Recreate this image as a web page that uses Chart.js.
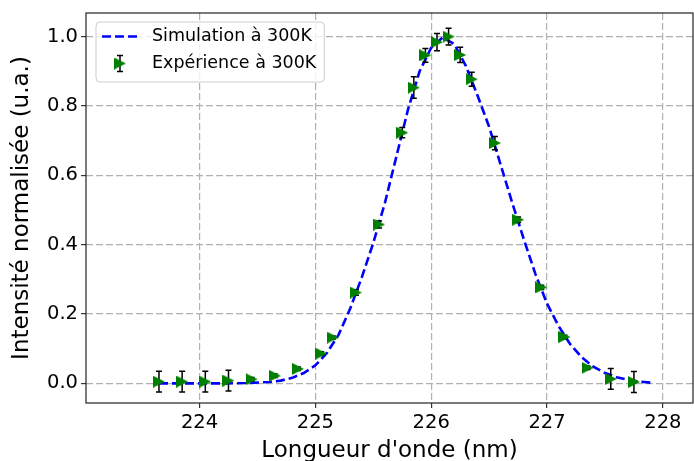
<!DOCTYPE html>
<html>
<head>
<meta charset="utf-8">
<script src="https://cdn.jsdelivr.net/npm/chart.js@4.4.1/dist/chart.umd.min.js"></script>
<style>
    html, body { margin: 0; padding: 0; background: #fff; }
</style>
</head>
<body>
<canvas id="spectrumChart" width="694" height="461"></canvas>
<script>
// measured points (with error bars)
const expX = [223.65, 223.85, 224.05, 224.25, 224.45, 224.65, 224.85, 225.05, 225.15, 225.35, 225.55, 225.75, 225.85,
    225.95, 226.05, 226.15, 226.25, 226.35, 226.55, 226.75, 226.95, 227.15, 227.35, 227.55, 227.75];
const expY = [0.005, 0.005, 0.005, 0.008, 0.012, 0.022, 0.042, 0.086, 0.132, 0.262, 0.458, 0.723, 0.853,
    0.946, 0.984, 1.0, 0.947, 0.877, 0.693, 0.472, 0.277, 0.134, 0.045, 0.013, 0.004];
const expErr = [0.03, 0.03, 0.03, 0.03, 0.005, 0.005, 0.005, 0.005, 0.005, 0.008, 0.01, 0.015, 0.031,
    0.02, 0.025, 0.024, 0.022, 0.02, 0.019, 0.008, 0.006, 0.005, 0.005, 0.03, 0.03];

// simulated profile
const simX = [223.65, 223.8, 224.0, 224.2, 224.4, 224.6, 224.7, 224.8, 224.9, 225.0, 225.1, 225.2, 225.3, 225.4,
    225.5, 225.6, 225.7, 225.8, 225.9, 226.0, 226.1, 226.2, 226.3, 226.4, 226.5, 226.6, 226.7, 226.8, 226.9,
    227.0, 227.1, 227.2, 227.3, 227.4, 227.5, 227.6, 227.7, 227.8, 227.9];
const simY = [0, 0, 0, 0, 0.001, 0.004, 0.008, 0.016, 0.03, 0.052, 0.088, 0.14, 0.215, 0.305,
    0.405, 0.52, 0.655, 0.79, 0.9, 0.968, 0.998, 0.978, 0.915, 0.83, 0.74, 0.63, 0.52, 0.415, 0.315,
    0.23, 0.165, 0.113, 0.075, 0.048, 0.03, 0.018, 0.01, 0.005, 0.002];

const seriesLabels = ['Simulation à 300K', 'Expérience à 300K'];
const xTicks = [224, 225, 226, 227, 228];
const yTicks = [0, 0.2, 0.4, 0.6, 0.8, 1.0];

Chart.defaults.font.family = '"DejaVu Sans", sans-serif';
Chart.defaults.color = '#000';

function makeTriangle(size, color) {
    let c = document.createElement('canvas');
    c.width = size;
    c.height = size;
    let g = c.getContext('2d');
    g.fillStyle = color;
    g.beginPath();
    g.moveTo(0, 0);
    g.lineTo(size, size / 2);
    g.lineTo(0, size);
    g.closePath();
    g.fill();
    return c;
}

const triangle = makeTriangle(12, '#008000');

function drawErrorBar(ctx, px, top, bot) {
    ctx.beginPath();
    ctx.moveTo(px, top);
    ctx.lineTo(px, bot);
    ctx.moveTo(px - 3, top);
    ctx.lineTo(px + 3, top);
    ctx.moveTo(px - 3, bot);
    ctx.lineTo(px + 3, bot);
    ctx.stroke();
}

// error bars go under the markers but over the simulated line
const errorBars = {
    id: 'errorBars',
    beforeDatasetDraw(chart, args) {
        if (args.index !== 1) return;
        const ctx = chart.ctx;
        const xs = chart.scales.x;
        const ys = chart.scales.y;
        ctx.save();
        ctx.strokeStyle = '#000';
        ctx.lineWidth = 1.5;
        for (let i = 0; i < expX.length; i++) {
            let px = xs.getPixelForValue(expX[i]);
            drawErrorBar(ctx, px, ys.getPixelForValue(expY[i] + expErr[i]), ys.getPixelForValue(expY[i] - expErr[i]));
        }
        ctx.restore();
    }
};

// full box around the plot + legend box like matplotlib
const frameAndLegend = {
    id: 'frameAndLegend',
    afterDraw(chart) {
        const ctx = chart.ctx;
        const a = chart.chartArea;
        ctx.save();
        ctx.strokeStyle = '#222';
        ctx.lineWidth = 1.2;
        ctx.strokeRect(a.left, a.top, a.right - a.left, a.bottom - a.top);

        ctx.font = '17.5px "DejaVu Sans"';
        const x0 = a.left + 10;
        const y0 = a.top + 9;
        const textX = x0 + 56;
        let w = 0;
        seriesLabels.forEach(t => { w = Math.max(w, ctx.measureText(t).width); });
        w += 56 + 8;
        const h = 60;

        ctx.beginPath();
        ctx.roundRect(x0, y0, w, h, 4);
        ctx.fillStyle = 'rgba(255,255,255,0.8)';
        ctx.fill();
        ctx.strokeStyle = '#cccccc';
        ctx.lineWidth = 1;
        ctx.stroke();

        let r1 = y0 + 14.5;
        let r2 = y0 + 41.5;
        ctx.strokeStyle = '#0000ff';
        ctx.lineWidth = 2.6;
        ctx.setLineDash([9, 4]);
        ctx.beginPath();
        ctx.moveTo(x0 + 6, r1);
        ctx.lineTo(x0 + 42, r1);
        ctx.stroke();
        ctx.setLineDash([]);

        ctx.strokeStyle = '#000';
        ctx.lineWidth = 1.5;
        drawErrorBar(ctx, x0 + 24, r2 - 8, r2 + 8);
        ctx.drawImage(triangle, x0 + 24 - 6, r2 - 6);

        ctx.fillStyle = '#000';
        ctx.textBaseline = 'middle';
        ctx.fillText(seriesLabels[0], textX, r1);
        ctx.fillText(seriesLabels[1], textX, r2);
        ctx.restore();
    }
};

function gridOpts() {
    return {
        color: '#b0b0b0',
        lineWidth: 1.2,
        borderDash: [7, 3],
        tickColor: '#333',
        tickLength: 5,
        tickWidth: 1.2,
        tickBorderDash: []
    };
}

function createChart(ctx) {
    return new Chart(ctx, {
        type: 'scatter',
        data: {
            datasets: [{
                label: seriesLabels[0],
                data: simX.map((x, i) => ({ x: x, y: simY[i] })),
                showLine: true,
                borderColor: '#0000ff',
                borderWidth: 2.6,
                borderDash: [9, 4],
                pointRadius: 0,
                fill: false,
                tension: 0,
                order: 2
            }, {
                label: seriesLabels[1],
                data: expX.map((x, i) => ({ x: x, y: expY[i] })),
                pointStyle: triangle,
                pointRadius: 6,
                backgroundColor: '#008000',
                borderColor: '#008000',
                order: 1
            }]
        },
        options: {
            responsive: false,
            animation: false,
            devicePixelRatio: 1,
            layout: {
                autoPadding: false,
                padding: { top: 13, right: 1, left: 0, bottom: 0 }
            },
            plugins: {
                legend: { display: false },
                tooltip: { enabled: false }
            },
            scales: {
                x: {
                    type: 'linear',
                    min: 223.02,
                    max: 228.26,
                    afterBuildTicks: s => { s.ticks = xTicks.map(v => ({ value: v })); },
                    afterFit: s => {
                        s.height = 58;
                        s.paddingLeft = 0;
                        s.paddingRight = 0;
                    },
                    ticks: {
                        autoSkip: false,
                        maxRotation: 0,
                        padding: 3,
                        font: { size: 19.5 },
                        callback: v => String(v)
                    },
                    grid: gridOpts(),
                    border: { display: false, dash: [7, 3] },
                    title: {
                        display: true,
                        text: "Longueur d'onde (nm)",
                        font: { size: 23 },
                        padding: { top: 0, bottom: -4 }
                    }
                },
                y: {
                    type: 'linear',
                    min: -0.0565,
                    max: 1.068,
                    afterBuildTicks: s => { s.ticks = yTicks.map(v => ({ value: v })); },
                    afterFit: s => {
                        s.width = 86;
                        s.paddingTop = 0;
                        s.paddingBottom = 0;
                    },
                    ticks: {
                        autoSkip: false,
                        padding: 3,
                        font: { size: 19.5 },
                        callback: v => v.toFixed(1)
                    },
                    grid: gridOpts(),
                    border: { display: false, dash: [7, 3] },
                    title: {
                        display: true,
                        text: 'Intensité normalisée (u.a.)',
                        font: { size: 23 },
                        padding: { top: 8, bottom: 0 }
                    }
                }
            }
        },
        plugins: [errorBars, frameAndLegend]
    });
}

createChart(document.getElementById('spectrumChart').getContext('2d'));
</script>
</body>
</html>
